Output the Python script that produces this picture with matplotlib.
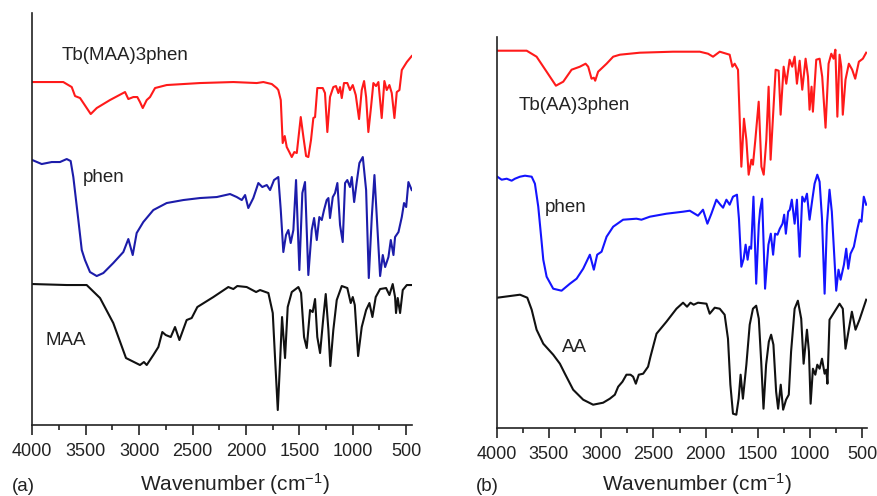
import matplotlib
matplotlib.use('Agg')
import matplotlib.pyplot as plt
from matplotlib.ticker import MultipleLocator

plt.rcParams['font.family'] = ['Liberation Sans', 'DejaVu Sans']
plt.rcParams['mathtext.fontset'] = 'custom'
plt.rcParams['mathtext.rm'] = 'Liberation Sans'
plt.rcParams['mathtext.it'] = 'Liberation Sans'

# ---- (a) Tb(MAA)3phen / phen / MAA, offset transmittance (a.u.) ----
tbmaa_wn = [4000, 3710, 3631, 3600, 3553, 3453, 3397, 3273, 3132, 3101, 3054, 3017,
            2992, 2966, 2929, 2898, 2851, 2742, 2430, 2118, 1899, 1837, 1758, 1712,
            1697, 1674, 1656, 1637, 1618, 1594, 1571, 1547, 1524, 1487, 1462, 1437,
            1416, 1391, 1369, 1353, 1332, 1281, 1260, 1238, 1213, 1182, 1157, 1135,
            1119, 1103, 1082, 1051, 1026, 1000, 972, 941, 916, 894, 875, 854, 829,
            807, 782, 760, 729, 704, 682, 657, 635, 610, 588, 563, 541, 494, 448]
tbmaa_t = [343, 343, 338, 329, 327, 311, 317, 325, 333, 326, 328, 328,
           323, 317, 325, 328, 337, 340, 342, 343, 342, 343, 341, 337,
           335, 325, 282, 289, 278, 273, 268, 273, 272, 308, 288, 269,
           268, 285, 307, 308, 337, 337, 332, 293, 328, 338, 339, 332,
           338, 327, 342, 342, 335, 340, 330, 306, 335, 344, 328, 293, 318,
           342, 339, 343, 307, 344, 335, 340, 332, 307, 333, 335, 355, 363, 369]

phen_a_wn = [4000, 3912, 3818, 3741, 3678, 3641, 3616, 3569, 3537, 3507, 3460, 3397,
             3335, 3242, 3148, 3101, 3060, 3023, 2961, 2867, 2742, 2586, 2430, 2273,
             2149, 2086, 2039, 2008, 1978, 1931, 1884, 1847, 1805, 1774, 1737, 1697,
             1674, 1650, 1625, 1603, 1581, 1556, 1531, 1500, 1472, 1447, 1416, 1384,
             1362, 1337, 1313, 1290, 1269, 1244, 1228, 1213, 1187, 1166, 1144, 1119,
             1094, 1072, 1051, 1026, 1009, 987, 963, 938, 906, 875, 850, 822, 797,
             775, 744, 719, 697, 666, 644, 619, 604, 572, 541, 520, 500, 479, 448]
phen_a_t = [265, 261, 263, 263, 266, 264, 248, 205, 175, 165, 153, 149,
            152, 162, 173, 186, 170, 192, 203, 215, 222, 225, 227, 228,
            231, 228, 225, 230, 217, 227, 242, 238, 240, 235, 245, 248,
            215, 173, 190, 195, 182, 195, 245, 155, 232, 243, 150, 195,
            207, 185, 208, 205, 215, 225, 227, 207, 228, 232, 242, 200,
            183, 242, 245, 238, 248, 223, 243, 262, 268, 235, 147, 208, 250,
            208, 149, 170, 158, 168, 185, 170, 188, 193, 208, 222, 218, 243, 235]

maa_wn = [4000, 3678, 3491, 3366, 3242, 3123, 2992, 2955, 2929, 2867, 2820, 2783,
          2751, 2704, 2664, 2623, 2555, 2508, 2455, 2305, 2165, 2118, 2081, 1993,
          1905, 1868, 1790, 1749, 1728, 1702, 1681, 1662, 1634, 1609, 1571, 1509,
          1484, 1456, 1431, 1400, 1375, 1353, 1332, 1306, 1275, 1253, 1228, 1210,
          1182, 1150, 1103, 1051, 1019, 1000, 981, 950, 916, 875, 844, 816, 785,
          744, 688, 657, 626, 604, 595, 579, 557, 532, 494, 448]
maa_t = [141, 140, 140, 127, 102, 67, 60, 63, 60, 70, 78, 93,
         90, 88, 98, 85, 105, 107, 118, 128, 138, 136, 139, 138,
         133, 135, 132, 112, 68, 15, 62, 108, 67, 118, 133, 138,
         132, 88, 77, 115, 113, 126, 88, 72, 108, 131, 95, 59,
         95, 125, 139, 137, 122, 128, 120, 69, 98, 115, 122, 108, 128,
         136, 137, 130, 141, 128, 112, 127, 112, 135, 140, 140]

# ---- (b) Tb(AA)3phen / phen / AA ----
tbaa_wn = [3994, 3713, 3618, 3522, 3433, 3363, 3283, 3204, 3149, 3124, 3092, 3070,
           3057, 3029, 2948, 2885, 2821, 2630, 2312, 2056, 1977, 1929, 1865, 1770,
           1744, 1722, 1690, 1658, 1633, 1610, 1588, 1562, 1547, 1524, 1492, 1466,
           1444, 1419, 1397, 1378, 1355, 1330, 1301, 1282, 1253, 1228, 1196, 1171,
           1148, 1126, 1100, 1075, 1043, 1020, 1005, 986, 973, 941, 909, 884, 852,
           823, 797, 775, 758, 739, 718, 702, 687, 661, 629, 597, 568, 533, 495, 463]
tbaa_t = [377, 377, 371, 356, 342, 346, 358, 361, 364, 361, 349, 350,
          347, 356, 364, 371, 373, 375, 376, 376, 374, 371, 376, 373,
          361, 364, 358, 261, 309, 288, 253, 268, 263, 288, 326, 261,
          253, 288, 341, 268, 311, 358, 357, 313, 361, 344, 368, 361,
          371, 344, 367, 338, 369, 351, 318, 341, 316, 368, 369, 351, 300,
          364, 374, 369, 378, 311, 373, 361, 313, 348, 364, 358, 349, 366, 369, 375]

phen_b_wn = [3994, 3952, 3904, 3857, 3825, 3777, 3729, 3665, 3634, 3602, 3570, 3554,
             3522, 3459, 3379, 3299, 3235, 3172, 3108, 3070, 3038, 2996, 2948, 2885,
             2790, 2662, 2614, 2534, 2375, 2295, 2216, 2152, 2073, 2025, 1983, 1945,
             1897, 1859, 1833, 1801, 1770, 1738, 1700, 1681, 1658, 1636, 1617, 1598,
             1580, 1564, 1542, 1516, 1491, 1478, 1459, 1431, 1399, 1376, 1354, 1335,
             1312, 1290, 1264, 1248, 1232, 1210, 1194, 1175, 1148, 1126, 1100, 1075,
             1053, 1030, 1005, 979, 957, 931, 909, 886, 861, 839, 814, 792, 776, 750,
             728, 708, 676, 654, 635, 613, 581, 549, 527, 508, 486, 463]
phen_b_t = [251, 248, 249, 247, 249, 251, 252, 251, 244, 221, 186, 168,
            151, 139, 137, 144, 149, 159, 173, 158, 173, 176, 191, 201,
            208, 209, 208, 211, 214, 215, 216, 217, 212, 218, 204, 214,
            228, 223, 220, 228, 223, 231, 233, 209, 161, 169, 183, 168,
            181, 179, 231, 144, 203, 218, 229, 139, 183, 194, 173, 194,
            193, 199, 204, 213, 194, 216, 218, 228, 204, 228, 171, 231,
            226, 234, 208, 228, 244, 253, 246, 209, 134, 203, 238, 216, 186, 137,
            158, 148, 163, 179, 159, 174, 181, 198, 208, 206, 231, 223]

aa_wn = [3994, 3777, 3707, 3665, 3618, 3554, 3459, 3395, 3347, 3268, 3172, 3077,
         2981, 2917, 2869, 2837, 2796, 2758, 2719, 2694, 2668, 2640, 2598, 2551,
         2528, 2470, 2375, 2279, 2216, 2178, 2145, 2114, 2073, 1992, 1961, 1913,
         1865, 1818, 1786, 1763, 1738, 1706, 1684, 1665, 1643, 1610, 1578, 1547,
         1516, 1491, 1468, 1446, 1421, 1395, 1373, 1351, 1325, 1306, 1281, 1258,
         1230, 1204, 1182, 1148, 1117, 1085, 1062, 1030, 1011, 995, 973, 950, 931,
         909, 886, 861, 845, 834, 814, 766, 718, 687, 661, 638, 600, 565, 527, 463]
aa_t = [130, 133, 130, 118, 98, 84, 73, 64, 54, 38, 28, 23,
        25, 29, 33, 41, 46, 53, 53, 51, 44, 53, 54, 61,
        71, 94, 106, 119, 125, 121, 125, 123, 125, 124, 114, 120,
        119, 113, 89, 43, 14, 13, 29, 53, 29, 63, 103, 119,
        122, 109, 66, 19, 63, 86, 93, 83, 36, 19, 43, 18,
        28, 33, 76, 119, 127, 109, 64, 98, 76, 24, 59, 53, 63,
        59, 69, 54, 58, 44, 108, 116, 124, 119, 79, 93, 116, 98, 108, 128]

fig = plt.figure(figsize=(8.78, 4.96), dpi=100)

panels = [
    dict(rect=[0.0368, 0.1431, 0.4325, 0.8306], ylim=412, xmin=445, tag='(a)', xlabel_x=0.267,
         tag_x=0.013,
         curves=[(tbmaa_wn, tbmaa_t, '#ff1a1a'), (phen_a_wn, phen_a_t, '#1c1caa'), (maa_wn, maa_t, '#111111')],
         labels=[('Tb(MAA)3phen', 3722, 370), ('phen', 3525, 248), ('MAA', 3881, 85)]),
    dict(rect=[0.5657, 0.1377, 0.4218, 0.7877], ylim=390.7, xmin=455, tag='(b)', xlabel_x=0.794,
         tag_x=0.542,
         curves=[(tbaa_wn, tbaa_t, '#ff1a1a'), (phen_b_wn, phen_b_t, '#1414ff'), (aa_wn, aa_t, '#111111')],
         labels=[('Tb(AA)3phen', 3787, 322), ('phen', 3538, 220), ('AA', 3379, 80)]),
]

for p in panels:
    ax = fig.add_axes(p['rect'])
    for wn, t, c in p['curves']:
        ax.plot(wn, t, color=c, lw=1.5, solid_joinstyle='round')
    for txt, x, y in p['labels']:
        ax.text(x, y, txt, fontsize=13.5, va='center', ha='left', color='#222222')
    ax.set_xlim(4000, p['xmin'])
    ax.set_ylim(0, p['ylim'])
    ax.xaxis.set_major_locator(MultipleLocator(500))
    ax.xaxis.set_minor_locator(MultipleLocator(250))
    ax.tick_params(axis='x', which='major', direction='out', length=7, width=1.2,
                   labelsize=13, pad=6, colors='#222222')
    ax.tick_params(axis='x', which='minor', direction='out', length=3.5, width=1.2, colors='#222222')
    ax.set_yticks([])
    for side in ['top', 'right']:
        ax.spines[side].set_visible(False)
    for side in ['left', 'bottom']:
        ax.spines[side].set_linewidth(1.2)
        ax.spines[side].set_color('#222222')
    fig.text(p['tag_x'], 0.011, p['tag'], fontsize=13.5, ha='left', va='baseline', color='#222222')
    fig.text(p['xlabel_x'], 0.011, 'Wavenumber (cm$^{-1}$)', fontsize=15, ha='center',
             va='baseline', color='#222222')

fig.savefig('out.png', dpi=100)
